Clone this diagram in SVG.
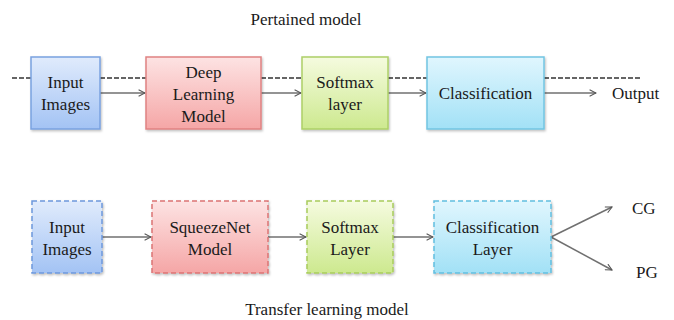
<svg xmlns="http://www.w3.org/2000/svg" width="674" height="320" viewBox="0 0 674 320">
<defs>
<linearGradient id="gBlue" x1="0" y1="0" x2="0" y2="1"><stop offset="0" stop-color="#e0ebfc"/><stop offset="1" stop-color="#a3c3f4"/></linearGradient>
<linearGradient id="gRed" x1="0" y1="0" x2="0" y2="1"><stop offset="0" stop-color="#fde3e3"/><stop offset="1" stop-color="#f5a6a6"/></linearGradient>
<linearGradient id="gGreen" x1="0" y1="0" x2="0" y2="1"><stop offset="0" stop-color="#f5fbdf"/><stop offset="1" stop-color="#cde98f"/></linearGradient>
<linearGradient id="gCyan" x1="0" y1="0" x2="0" y2="1"><stop offset="0" stop-color="#e0f6fe"/><stop offset="1" stop-color="#a2e1f6"/></linearGradient>
<filter id="sh" x="-10%" y="-10%" width="130%" height="130%"><feDropShadow dx="1" dy="1.5" stdDeviation="1" flood-color="#000" flood-opacity="0.25"/></filter>
<marker id="ah" viewBox="0 0 10 10" refX="9" refY="5" markerWidth="8" markerHeight="8" markerUnits="userSpaceOnUse" orient="auto"><path d="M1,1 L9,5 L1,9" fill="none" stroke="#555" stroke-width="1.3"/></marker>
</defs>
<style>
text{font-family:"Liberation Serif","Times New Roman",serif;font-size:17px;fill:#1a1a1a}
.c{text-anchor:middle}
.box{stroke-width:1.5;filter:url(#sh)}
.dsh{stroke-dasharray:5 3}
.arr{stroke:#707070;stroke-width:1.5;fill:none;marker-end:url(#ah)}
.dline{stroke:#333;stroke-width:1.5;stroke-dasharray:5 2;fill:none}
</style>
<rect width="674" height="320" fill="#fff"/>
<text class="c" x="306" y="25">Pertained model</text>
<text class="c" x="327" y="315">Transfer learning model</text>
<g id="connectors">
<path class="dline" d="M12,78 H31 M100,78 H146 M261,78 H302 M388,78 H427 M544,78 H640"/>
<line class="arr" x1="100" y1="93" x2="145" y2="93"/>
<line class="arr" x1="261" y1="93" x2="301" y2="93"/>
<line class="arr" x1="388" y1="93" x2="426" y2="93"/>
<line class="arr" x1="544" y1="93" x2="596" y2="93"/>
<line class="arr" x1="102" y1="237" x2="151" y2="237"/>
<line class="arr" x1="268" y1="237" x2="306" y2="237"/>
<line class="arr" x1="393" y1="237" x2="433" y2="237"/>
<line class="arr" x1="551" y1="237" x2="612" y2="207"/>
<line class="arr" x1="551" y1="237" x2="612" y2="270"/>
</g>
<g id="top-input"><rect class="box" x="31" y="57" width="69" height="72" fill="url(#gBlue)" stroke="#7aa2e0"/><text class="c" x="65.5" y="88">Input</text><text class="c" x="65.5" y="110">Images</text></g>
<g id="top-deep"><rect class="box" x="146" y="57" width="115" height="72" fill="url(#gRed)" stroke="#e08282"/><text class="c" x="203.5" y="78">Deep</text><text class="c" x="203.5" y="100">Learning</text><text class="c" x="203.5" y="122">Model</text></g>
<g id="top-softmax"><rect class="box" x="302" y="57" width="86" height="72" fill="url(#gGreen)" stroke="#add067"/><text class="c" x="345" y="88">Softmax</text><text class="c" x="345" y="110">layer</text></g>
<g id="top-class"><rect class="box" x="427" y="57" width="117" height="72" fill="url(#gCyan)" stroke="#72c5e2"/><text class="c" x="485.5" y="99">Classification</text></g>
<g id="top-output"><text x="612" y="99">Output</text></g>
<g id="bot-input"><rect class="box dsh" x="32" y="201" width="70" height="72" fill="url(#gBlue)" stroke="#6d98dc"/><text class="c" x="67" y="233">Input</text><text class="c" x="67" y="255">Images</text></g>
<g id="bot-squeeze"><rect class="box dsh" x="152" y="201" width="116" height="72" fill="url(#gRed)" stroke="#dc7474"/><text class="c" x="210" y="233">SqueezeNet</text><text class="c" x="210" y="255">Model</text></g>
<g id="bot-softmax"><rect class="box dsh" x="307" y="201" width="86" height="72" fill="url(#gGreen)" stroke="#a8cc5c"/><text class="c" x="350" y="233">Softmax</text><text class="c" x="350" y="255">Layer</text></g>
<g id="bot-class"><rect class="box dsh" x="434" y="201" width="117" height="72" fill="url(#gCyan)" stroke="#62bedf"/><text class="c" x="492.5" y="233">Classification</text><text class="c" x="492.5" y="255">Layer</text></g>
<g id="cg"><text x="632" y="214">CG</text></g>
<g id="pg"><text x="636" y="278">PG</text></g>
</svg>
